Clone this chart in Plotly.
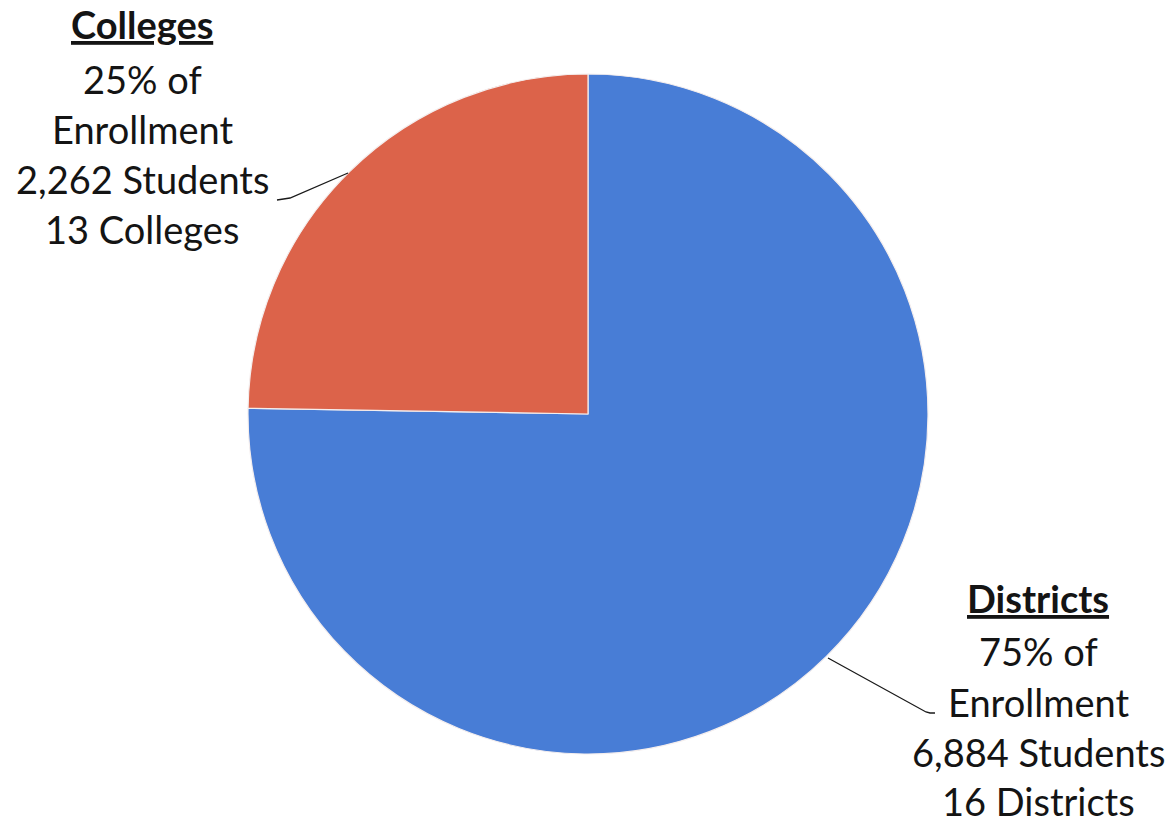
import plotly.graph_objects as go

# Enrollment split between the two provider types (drawn clockwise from 12 o'clock)
categories = ["Districts", "Colleges"]
students = [6884, 2262]
providers = [16, 13]
provider_labels = ["Districts", "Colleges"]
share_labels = ["75%", "25%"]
slice_colors = ["#487dd6", "#dc634a"]

W, H = 1172, 825


def px(x, y):
    """Pixel position on the page -> paper coordinates."""
    return x / W, 1 - y / H


# Pie placement (pixels): centre and radius
cx, cy, r = 588, 414, 340
x0, y1 = px(cx - r, cy - r)
x1, y0 = px(cx + r, cy + r)

fig = go.Figure(
    go.Pie(
        labels=categories,
        values=students,
        sort=False,
        direction="clockwise",
        rotation=0,
        marker=dict(colors=slice_colors, line=dict(color="#f4eeee", width=1.2)),
        textinfo="none",
        hoverinfo="label+value+percent",
        showlegend=False,
        domain=dict(x=[x0, x1], y=[y0, y1]),
    )
)

FONT = "Lato"
SIZE = 38
INK = "#141414"


def label_block(i, center_x, line_ys):
    lines = [
        f"<b><u>{categories[i]}</u></b>",
        f"{share_labels[i]} of",
        "Enrollment",
        f"{students[i]:,} Students",
        f"{providers[i]} {provider_labels[i]}",
    ]
    out = []
    for text, ly in zip(lines, line_ys):
        ann = dict(
            xref="paper", yref="paper",
            text=text, showarrow=False,
            xanchor="center", yanchor="middle",
            font=dict(family=FONT, size=SIZE, color=INK),
        )
        if ly is None:
            # header pinned to the top edge of the page
            ann.update(x=center_x / W, y=1, yanchor="top", height=46,
                       valign="middle", borderpad=0)
        else:
            ax, ay = px(center_x, ly)
            ann.update(x=ax, y=ay)
        out.append(ann)
    return out


annotations = []
annotations += label_block(1, 142, [None, 79, 129, 179, 229])
annotations += label_block(0, 1038, [598, 651, 702, 752, 801])


def leader(points):
    pts = [px(x, y) for x, y in points]
    d = "M " + " L ".join(f"{a:.5f},{b:.5f}" for a, b in pts)
    return dict(type="path", path=d, xref="paper", yref="paper",
                line=dict(color="#1a1a1a", width=1.3))


shapes = [
    leader([(277, 200), (290, 198), (348, 173)]),
    leader([(828, 658), (926, 712), (930, 713), (935, 713)]),
]

fig.update_layout(
    width=W,
    height=H,
    margin=dict(l=0, r=0, t=0, b=0),
    paper_bgcolor="white",
    plot_bgcolor="white",
    annotations=annotations,
    shapes=shapes,
)

fig.write_html("out.html")
